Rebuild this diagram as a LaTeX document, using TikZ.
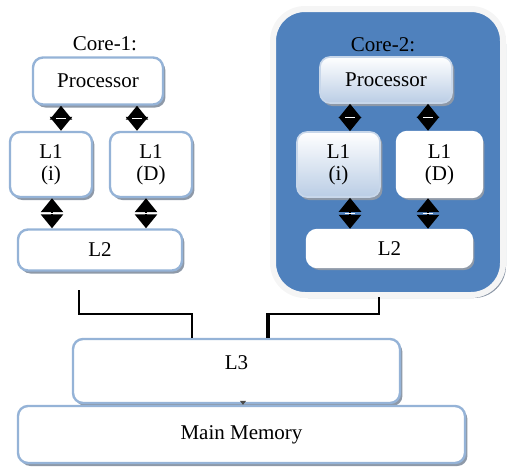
\documentclass[tikz,border=0pt]{standalone}
\usepackage{fontspec}
\setmainfont{Liberation Serif}
\usetikzlibrary{arrows.meta,shadows,calc}

\definecolor{boxline}{HTML}{95B3D7}
\definecolor{coreblue}{HTML}{4F81BD}
\definecolor{shadowgray}{HTML}{8E99A8}
\definecolor{boxshade}{HTML}{BACDE5}

\tikzset{
  cachebox/.style={draw=boxline, line width=1.2pt, fill=white, rounded corners=5pt,
    drop shadow={shadow xshift=1.2pt, shadow yshift=-1.5pt, fill=shadowgray, opacity=1},
    font=\fontsize{10.5pt}{11pt}\selectfont, align=center, inner sep=0pt},
  shadedbox/.style={cachebox, draw=boxshade!80!white, line width=0.8pt, top color=white, bottom color=boxshade},
  dblarrow/.style={line width=1.4pt, {Triangle[width=11pt,length=7pt]}-{Triangle[width=11pt,length=7pt]}},
  busline/.style={line width=0.8pt}
}

% double arrow at x=#1 from node #2 down to node #3, with a white tick in the middle
\newcommand{\cachelink}[3]{%
  \draw [dblarrow] (#1, 0 |- #2.south) -- (#1, 0 |- #3.north);
  \draw [white, line width=0.7pt] ($(#1, 0 |- #2.south)!0.5!(#1, 0 |- #3.north)$) +(-2.5pt, 0) -- +(2.5pt, 0);
}

\begin{document}
\begin{tikzpicture}[x=0.5pt, y=-0.5pt]
\useasboundingbox (0, 0) rectangle (507, 466);

% core 2 background
\draw [line width=3pt, draw=gray!8, fill=coreblue, rounded corners=16pt,
  drop shadow={shadow xshift=1.5pt, shadow yshift=-1.5pt, fill=shadowgray, opacity=1}]
  (273, 9) rectangle (503, 295);

% core 1
\node (c1) at (105, 44) [font=\fontsize{10.5pt}{11pt}\selectfont] {Core-1:};
\node (proc1) at (98, 81) [cachebox, minimum width=65pt, minimum height=23.5pt] {Processor};
\node (l1i1) at (51, 164.5) [cachebox, minimum width=41pt, minimum height=32.5pt] {L1\\(i)};
\node (l1d1) at (151, 164.5) [cachebox, minimum width=41pt, minimum height=32.5pt] {L1\\(D)};
\node (l2a) at (100, 250) [cachebox, minimum width=82pt, minimum height=20.5pt] {L2};
\cachelink{61}{proc1}{l1i1}
\cachelink{137}{proc1}{l1d1}
\cachelink{52}{l1i1}{l2a}
\cachelink{146}{l1d1}{l2a}

% core 2
\node (c2) at (383, 45) [font=\fontsize{10.5pt}{11pt}\selectfont] {Core-2:};
\node (proc2) at (386, 80) [shadedbox, minimum width=66pt, minimum height=23pt] {Processor};
\node (l1i2) at (338.5, 164.5) [shadedbox, minimum width=41.5pt, minimum height=32.5pt] {L1\\(i)};
\node (l1d2) at (439.5, 164.5) [cachebox, draw=white, minimum width=42.5pt, minimum height=32.5pt] {L1\\(D)};
\node (l2b) at (389.5, 248.5) [cachebox, draw=white, minimum width=82.5pt, minimum height=18.5pt] {L2};
\cachelink{350}{proc2}{l1i2}
\cachelink{428}{proc2}{l1d2}
\cachelink{350}{l1i2}{l2b}
\cachelink{428}{l1d2}{l2b}

% shared levels
\node (l3) at (236.5, 371) [cachebox, minimum width=163.5pt, minimum height=32pt, text height=7pt, text depth=9pt] {L3};
\node (mem) at (241.5, 434.5) [cachebox, minimum width=223.5pt, minimum height=28.5pt] {Main Memory};
\draw [-{Triangle[width=3pt,length=2pt]}, line width=0.6pt, draw=black!70] (243, 0 |- l3.south) -- (243, 0 |- mem.north);

% buses to L3
\coordinate (b1) at (79, 290);
\coordinate (b2) at (379, 297);
\draw [busline] (b1) -- (79, 314) -- (192, 314) -- (192, 0 |- l3.north);
\draw [busline] (b2) -- (379, 314) -- (268, 314);
\draw [line width=1.6pt] (268, 313) -- (268, 0 |- l3.north);
\end{tikzpicture}
\end{document}
